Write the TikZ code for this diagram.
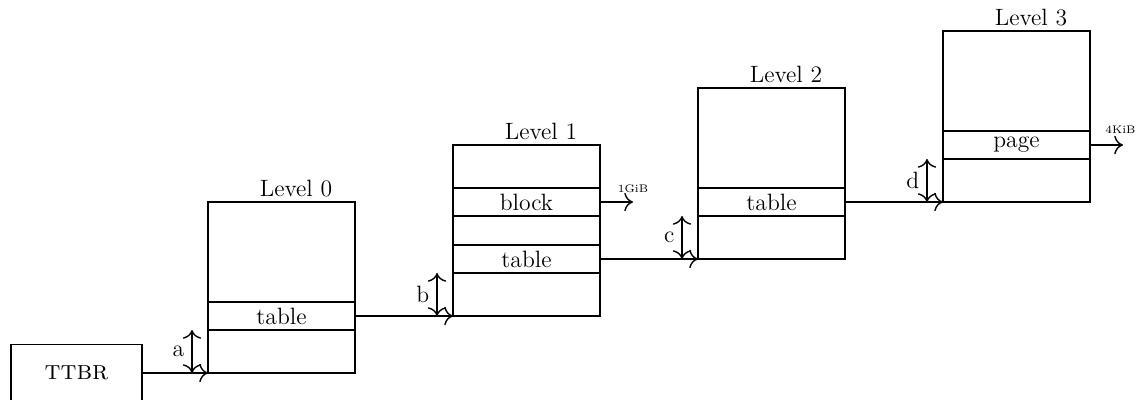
\documentclass[tikz,border=0pt]{standalone}
\usetikzlibrary{calc,arrows.meta}
\begin{document}
\begin{tikzpicture}[x=0.5pt,y=-0.5pt,line width=0.7pt,
  font=\fontsize{11.8}{14}\selectfont,
  lvlbox/.style={draw,minimum width=73.5pt,minimum height=85.5pt,inner sep=0pt,outer sep=0pt,anchor=south west},
  rowbox/.style={draw,minimum width=73.5pt,minimum height=14pt,inner sep=0pt,outer sep=0pt,anchor=south west},
  lvllabel/.style={anchor=base,inner sep=0pt},
  sizelabel/.style={font=\fontsize{5.5}{6}\selectfont,anchor=base,inner sep=0pt},
  ptr/.style={-{To[scale=1.4]}},
  offs/.style={{To[scale=1.4]}-{To[scale=1.4]}},
  offlabel/.style={left,inner sep=3.5pt}]
\useasboundingbox (0,0) rectangle (1141,400);
% TTBR
\node[draw,minimum width=65.5pt,minimum height=28.5pt,inner sep=0pt,outer sep=0pt,font=\fontsize{13.5}{15}\selectfont] (ttbr) at (76.5,373) {\textsc{ttbr}};
% Level 0
\node[lvlbox] (l0) at (208,373) {};
\node[rowbox] (l0t) at (208,330) {table};
\node[lvllabel] (l0l) at ($(l0.north)+(14.5,-5)$) {Level 0};
% Level 1
\node[lvlbox] (l1) at (453,316) {};
\node[rowbox] (l1b) at (453,216) {block};
\node[rowbox] (l1t) at (453,273) {table};
\node[lvllabel] (l1l) at ($(l1.north)+(14.5,-5)$) {Level 1};
% Level 2
\node[lvlbox] (l2) at (698,259) {};
\node[rowbox] (l2t) at (698,216) {table};
\node[lvllabel] (l2l) at ($(l2.north)+(14.5,-5)$) {Level 2};
% Level 3
\node[lvlbox] (l3) at (943,202) {};
\node[rowbox] (l3p) at (943,159) {page};
\node[lvllabel] (l3l) at ($(l3.north)+(14.5,-5)$) {Level 3};
% pointers
\draw[ptr] (ttbr.east) -- (l0.south west);
\draw[ptr] (l0t.east) -- (l1.south west);
\draw[ptr] (l1t.east) -- (l2.south west);
\draw[ptr] (l2t.east) -- (l3.south west);
% block / page outputs
\coordinate (gib) at ($(l1b.east)+(33,0)$);
\coordinate (kib) at ($(l3p.east)+(33,0)$);
\draw[ptr] (l1b.east) -- (gib);
\draw[ptr] (l3p.east) -- (kib);
\node[sizelabel] (gibl) at ($(gib)+(0,-9)$) {1GiB};
\node[sizelabel] (kibl) at ($(kib)+(-2.5,-11)$) {4KiB};
% offsets
\coordinate (a1) at ($(l0.south west)+(-16,0)$);
\coordinate (a2) at ($(l0t.south west)+(-16,0)$);
\draw[offs] (a1) -- node[offlabel] {a} (a2);
\coordinate (b1) at ($(l1.south west)+(-16,0)$);
\coordinate (b2) at ($(l1t.south west)+(-16,0)$);
\draw[offs] (b1) -- node[offlabel] {b} (b2);
\coordinate (c1) at ($(l2.south west)+(-16,0)$);
\coordinate (c2) at ($(l2t.south west)+(-16,0)$);
\draw[offs] (c1) -- node[offlabel] {c} (c2);
\coordinate (d1) at ($(l3.south west)+(-16,0)$);
\coordinate (d2) at ($(l3p.south west)+(-16,0)$);
\draw[offs] (d1) -- node[offlabel] {d} (d2);
\end{tikzpicture}
\end{document}
